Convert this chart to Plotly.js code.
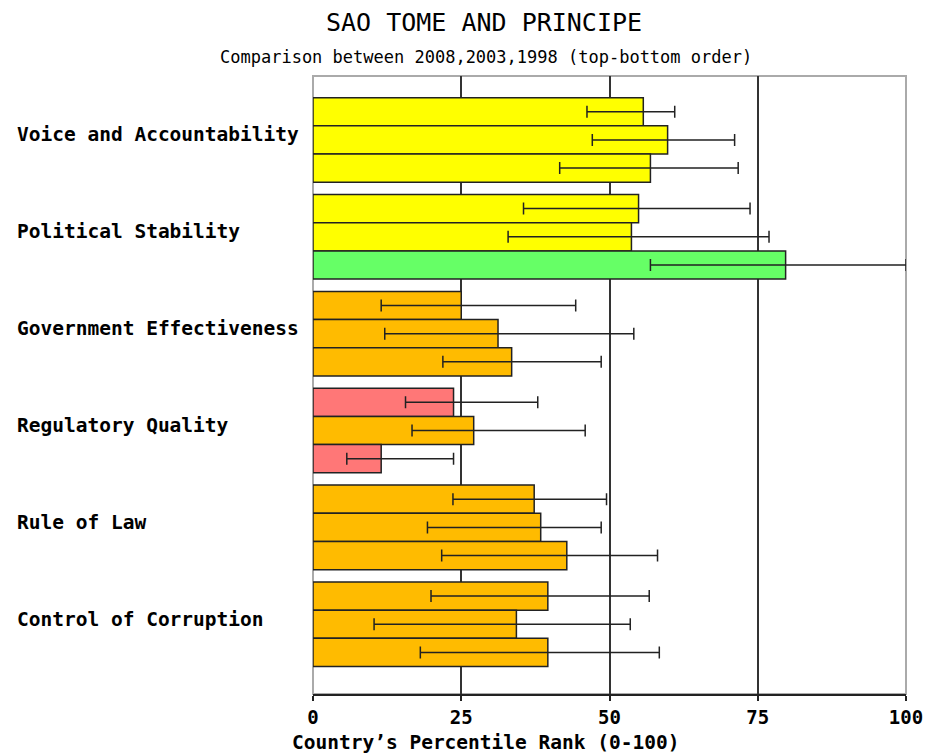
<!DOCTYPE html>
<html><head><meta charset="utf-8">
<script src="https://cdn.plot.ly/plotly-3.0.1.min.js"></script>
<style>body{margin:0;background:#fff}#chart{width:925px;height:755px}</style>
</head><body><div id="chart"></div>
<script>
const categories = ["Voice and Accountability","Political Stability","Government Effectiveness","Regulatory Quality","Rule of Law","Control of Corruption"];
const years = ["2008","2003","1998"];
const rank2008 = [55.7, 54.9, 25.0, 23.7, 37.3, 39.6];
const low2008  = [46.2, 35.5, 11.5, 15.6, 23.6, 19.9];
const high2008 = [61.0, 73.7, 44.3, 37.9, 49.5, 56.7];
const rank2003 = [59.8, 53.7, 31.2, 27.1, 38.4, 34.3];
const low2003  = [47.1, 32.9, 12.1, 16.7, 19.3, 10.3];
const high2003 = [71.1, 76.9, 54.1, 45.9, 48.6, 53.5];
const rank1998 = [56.9, 79.7, 33.5, 11.5, 42.8, 39.6];
const low1998  = [41.6, 56.9, 21.9, 5.7, 21.7, 18.1];
const high1998 = [71.7, 100.0, 48.6, 23.7, 58.1, 58.4];
const xTicks = [0, 25, 50, 75, 100];

function colorFor(v){
  if (v < 25) return "#ff7777";
  if (v < 50) return "#ffbb00";
  if (v < 75) return "#ffff00";
  return "#66ff66";
}
const series = [[rank2008,low2008,high2008],[rank2003,low2003,high2003],[rank1998,low1998,high1998]];
const traces = series.map((s,i)=>({
  type:"bar", orientation:"h", name:years[i],
  y:categories, x:s[0],
  marker:{color:s[0].map(colorFor), line:{color:"#222", width:1.5}},
  error_x:{type:"data", symmetric:false,
    array:s[2].map((h,j)=>h-s[0][j]), arrayminus:s[0].map((v,j)=>v-s[1][j]),
    color:"#222", thickness:1.5, width:6},
  hoverinfo:"x+y"
}));
const mono = "DejaVu Sans Mono, monospace";
const annotations = categories.map(c=>({
  xref:"paper", yref:"y", x:(15-313)/593, y:c, xanchor:"left", yanchor:"middle",
  yshift:5, text:"<b>"+c+"</b>", showarrow:false, font:{family:mono, size:19.5, color:"#000"}
}));
annotations.push({xref:"paper",yref:"paper",x:(484-313)/593,y:1+(76-22)/618,xanchor:"center",yanchor:"middle",
  text:"SAO TOME AND PRINCIPE",showarrow:false,font:{family:mono,size:25,color:"#000"}});
annotations.push({xref:"paper",yref:"paper",x:(486-313)/593,y:1+(76-57)/618,xanchor:"center",yanchor:"middle",
  text:"Comparison between 2008,2003,1998 (top-bottom order)",showarrow:false,font:{family:mono,size:17,color:"#000"}});
annotations.push({xref:"paper",yref:"paper",x:(485-313)/593,y:-(743-694)/618,xanchor:"center",yanchor:"middle",
  text:"<b>Country’s Percentile Rank (0-100)</b>",showarrow:false,font:{family:mono,size:19.5,color:"#000"}});

const layout = {
  width:925, height:755,
  margin:{l:313, r:19, t:76, b:61, pad:0},
  paper_bgcolor:"#fff", plot_bgcolor:"#fff",
  showlegend:false, barmode:"group", bargap:0.127, bargroupgap:0,
  xaxis:{range:[0,100], tickvals:xTicks, ticktext:xTicks.map(String),
    showgrid:true, gridcolor:"#333", gridwidth:2, zeroline:false,
    showline:true, linecolor:"#222", linewidth:2, ticks:"outside", ticklen:5, tickcolor:"#222", tickwidth:2,
    tickfont:{family:mono, size:19, color:"#000", weight:"bold"}, fixedrange:true},
  yaxis:{type:"category", range:[5.72,-0.66], showticklabels:false, showgrid:false, zeroline:false,
    showline:false, ticks:"", fixedrange:true},
  shapes:[{type:"rect", xref:"paper", yref:"paper", x0:0, x1:1, y0:0, y1:1, line:{color:"#aaa", width:2}, layer:"below"}],
  annotations:annotations
};
Plotly.newPlot("chart", traces, layout, {displayModeBar:false, staticPlot:true});
</script></body></html>
